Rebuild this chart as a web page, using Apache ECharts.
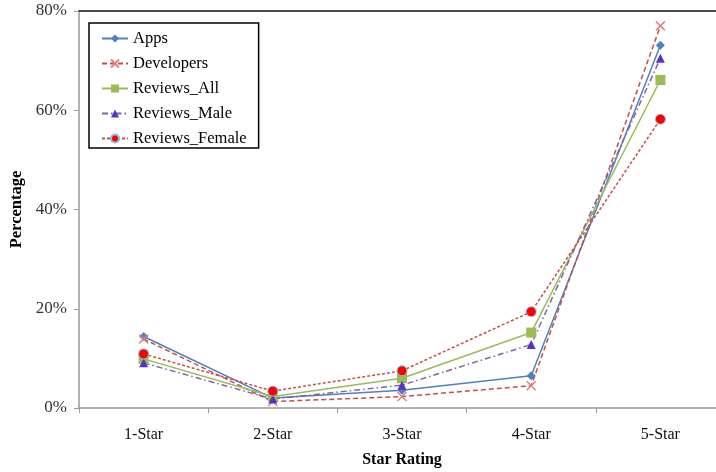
<!DOCTYPE html>
<html><head><meta charset="utf-8">
<script src="https://cdn.jsdelivr.net/npm/echarts@6/dist/echarts.min.js"></script>
<style>html,body{margin:0;padding:0;background:#fff}#c{width:716px;height:472px}</style>
</head><body><div id="c"></div>
<script>
var categories = ['1-Star','2-Star','3-Star','4-Star','5-Star'];
var apps = [14.4, 2.0, 3.6, 6.5, 73.1];
var developers = [13.9, 1.3, 2.3, 4.5, 77.0];
var reviewsAll = [9.9, 2.3, 6.0, 15.2, 66.1];
var reviewsMale = [9.1, 1.8, 4.6, 12.8, 70.5];
var reviewsFemale = [10.9, 3.4, 7.5, 19.4, 58.2];
var yTicks = [0, 20, 40, 60, 80];

var serif = '"Liberation Serif","DejaVu Serif",serif';
var crossPath = 'path://M0,0L10,10M10,0L0,10';
var chart = echarts.init(document.getElementById('c'));
chart.setOption({
  animation: false,
  textStyle: {fontFamily: serif},
  grid: {left: 79, top: 11, right: -9, bottom: 64, containLabel: false, outerBoundsMode: 'none'},
  legend: {
    left: 89, top: 23, orient: 'vertical', itemGap: 8,
    padding: [7, 12, 1, 12],
    borderColor: '#000', borderWidth: 1.5, backgroundColor: '#fff',
    itemWidth: 26, itemHeight: 10,
    textStyle: {fontFamily: serif, fontSize: 16.5, color: '#000', lineHeight: 17},
    data: ['Apps','Developers','Reviews_All','Reviews_Male','Reviews_Female']
  },
  xAxis: [{
    type: 'category', data: categories, boundaryGap: true,
    name: 'Star Rating', nameLocation: 'middle', nameGap: 44,
    nameTextStyle: {fontFamily: serif, fontSize: 16, fontWeight: 'bold', color: '#000'},
    axisLine: {lineStyle: {color: '#999', width: 1.5}},
    axisTick: {show: true, alignWithLabel: false, length: 5, lineStyle: {color: '#999'}},
    axisLabel: {fontFamily: serif, fontSize: 16, color: '#111', margin: 19}
  }, {
    type: 'category', data: categories, position: 'top',
    axisLine: {show: true, lineStyle: {color: '#111', width: 1.5}},
    axisTick: {show: false}, axisLabel: {show: false}
  }],
  yAxis: {
    type: 'value', min: 0, max: 80, interval: 20,
    name: 'Percentage', nameLocation: 'middle', nameGap: 54, nameRotate: 90,
    nameTextStyle: {fontFamily: serif, fontSize: 16.5, fontWeight: 'bold', color: '#000'},
    axisLine: {show: true, lineStyle: {color: '#999', width: 1.5}},
    axisTick: {show: true, length: 5, lineStyle: {color: '#999'}},
    splitLine: {show: false},
    axisLabel: {fontFamily: serif, fontSize: 17, color: '#333', margin: 12,
      formatter: function(v){ return yTicks.indexOf(v) >= 0 ? v + '%' : ''; }}
  },
  series: [
    {name: 'Apps', type: 'line', data: apps, symbol: 'diamond', symbolSize: 9,
      lineStyle: {color: '#4F81BD', width: 1.5}, itemStyle: {color: '#4F81BD'}},
    {name: 'Developers', type: 'line', data: developers, symbol: crossPath, symbolSize: 9,
      lineStyle: {color: '#C0504D', width: 1.5, type: [5, 3]},
      itemStyle: {color: 'none', borderColor: '#E08080', borderWidth: 1.5}},
    {name: 'Reviews_All', type: 'line', data: reviewsAll, symbol: 'rect', symbolSize: 10,
      lineStyle: {color: '#9BBB59', width: 1.5}, itemStyle: {color: '#9BBB59'}},
    {name: 'Reviews_Male', type: 'line', data: reviewsMale, symbol: 'triangle', symbolSize: 9,
      lineStyle: {color: '#8064A2', width: 1.5, type: [6, 3, 1.5, 3]}, itemStyle: {color: '#5533CC'}},
    {name: 'Reviews_Female', type: 'line', data: reviewsFemale, symbol: 'circle', symbolSize: 10,
      lineStyle: {color: '#C0504D', width: 1.5, type: [3, 2]},
      itemStyle: {color: '#FF0000', borderColor: '#7FC4D8', borderWidth: 1}}
  ]
});
</script></body></html>
